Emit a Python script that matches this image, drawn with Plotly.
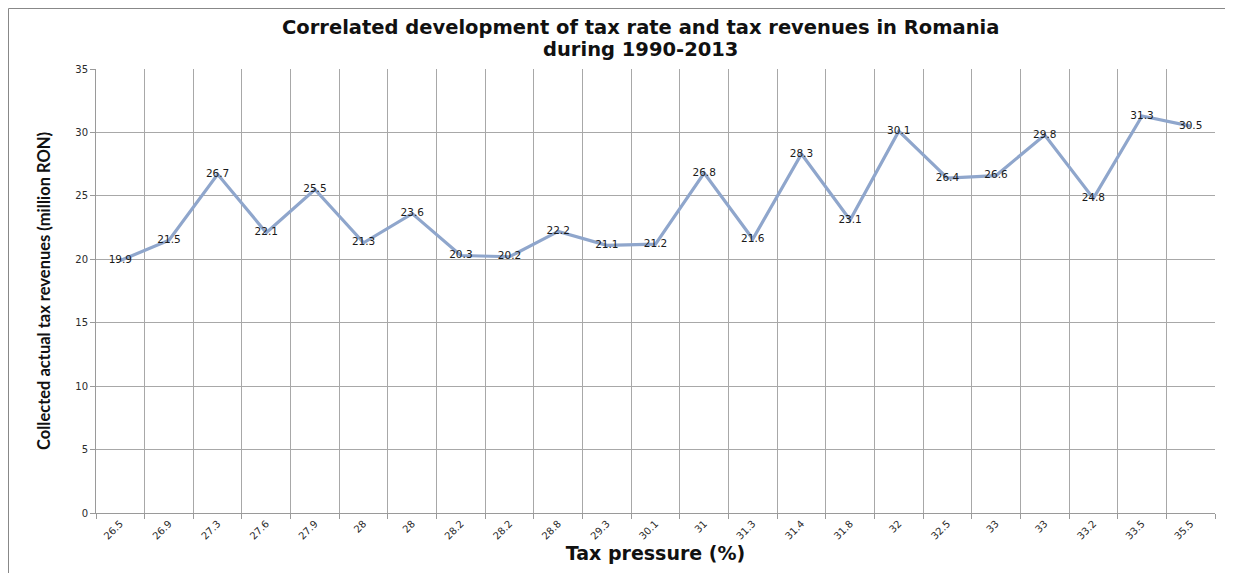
import plotly.graph_objects as go

tax_pressure = ["26.5", "26.9", "27.3", "27.6", "27.9", "28", "28", "28.2", "28.2", "28.8",
                "29.3", "30.1", "31", "31.3", "31.4", "31.8", "32", "32.5", "33", "33",
                "33.2", "33.5", "35.5"]
revenues = [19.9, 21.5, 26.7, 22.1, 25.5, 21.3, 23.6, 20.3, 20.2, 22.2,
            21.1, 21.2, 26.8, 21.6, 28.3, 23.1, 30.1, 26.4, 26.6, 29.8,
            24.8, 31.3, 30.5]
y_ticks = [0, 5, 10, 15, 20, 25, 30, 35]
title_lines = ["Correlated development of tax rate and tax revenues in Romania",
               "during 1990-2013"]

idx = list(range(len(tax_pressure)))
bounds = [i - 0.5 for i in range(len(tax_pressure) + 1)]

fig = go.Figure()
fig.add_trace(go.Scatter(
    x=idx, y=revenues, mode="lines+text",
    line=dict(color="#8FA6CC", width=3.2),
    text=[str(v) for v in revenues],
    textposition="middle center",
    textfont=dict(family="DejaVu Sans", size=10.5, color="#1a1a1a"),
    hoverinfo="skip", showlegend=False,
))

OFF = 8  # page body margin
W, H = 1233 - OFF, 573 - OFF
L, R, T, B = 96 - OFF, 1215 - OFF, 69 - OFF, 513 - OFF

def px_x(px):
    return (px - OFF - L) / (R - L)

def px_y(py):
    return (B - (py - OFF)) / (B - T)

annotations = []
for line, ypix in zip(title_lines, [28, 49]):
    annotations.append(dict(
        text=f"<b>{line}</b>", xref="paper", yref="paper",
        x=px_x(640), y=px_y(ypix), xanchor="center", yanchor="middle",
        showarrow=False,
        font=dict(family="DejaVu Sans", size=19.5, color="#111111"),
    ))

fig.update_layout(
    width=W, height=H,
    margin=dict(l=L, r=W - R, t=T, b=H - B),
    paper_bgcolor="white", plot_bgcolor="white",
    annotations=annotations,
    xaxis=dict(
        range=[-0.5, len(tax_pressure) - 0.5],
        tickmode="array", tickvals=idx, ticktext=tax_pressure,
        tickangle=-45, ticks="", showgrid=False, zeroline=False,
        tickfont=dict(family="DejaVu Sans", size=10, color="#2a2a2a"),
        showline=True, linecolor="#9A9A9A", linewidth=1,
        minor=dict(tickmode="array", tickvals=bounds, showgrid=True,
                   gridcolor="#A8A8A8", gridwidth=1, ticks="outside",
                   ticklen=5, tickcolor="#9A9A9A"),
        title=dict(text="<b>Tax pressure (%)</b>", standoff=4,
                   font=dict(family="DejaVu Sans", size=19, color="#111111")),
    ),
    yaxis=dict(
        range=[0, 35], tickmode="array", tickvals=y_ticks,
        showgrid=True, gridcolor="#A8A8A8", gridwidth=1, zeroline=False,
        showline=True, linecolor="#9A9A9A", linewidth=1,
        ticks="outside", ticklen=5, tickcolor="#9A9A9A",
        tickfont=dict(family="DejaVu Sans", size=10, color="#2a2a2a"),
        title=dict(text="<b>Collected actual tax revenues (million RON)</b>", standoff=20,
                   font=dict(family="Liberation Sans Narrow, Lato, sans-serif", size=16.5, color="#111111")),
    ),
    shapes=[dict(type="rect", xref="paper", yref="paper",
                 x0=(0.5 - L) / (R - L), x1=1.2,
                 y0=-0.3, y1=(B - 0.5) / (B - T),
                 line=dict(color="#888888", width=1), fillcolor="rgba(0,0,0,0)",
                 layer="below")],
)

fig.write_html("out.html")
